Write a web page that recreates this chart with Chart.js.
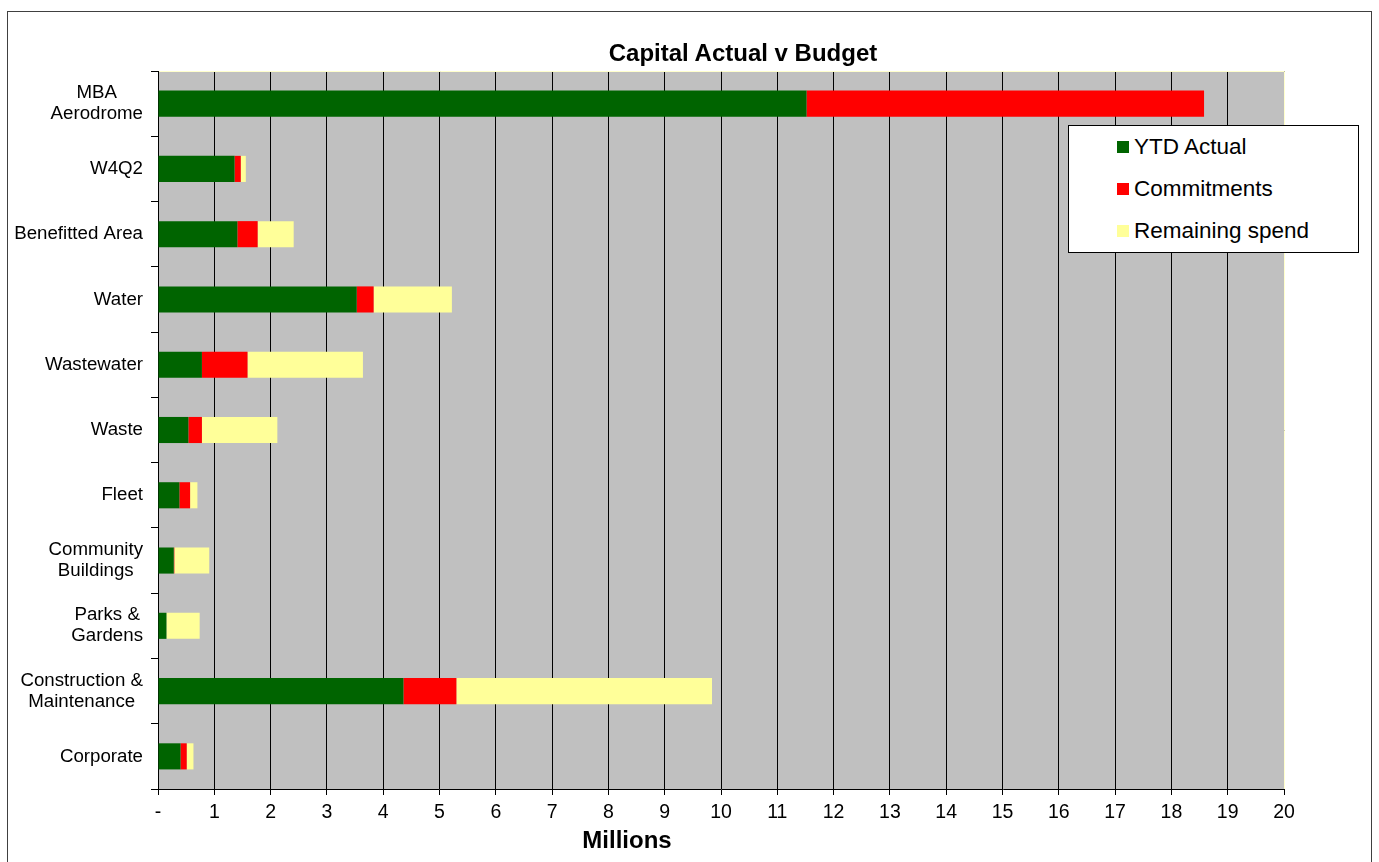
<!DOCTYPE html>
<html>
<head>
<meta charset="utf-8">
<script src="https://cdn.jsdelivr.net/npm/chart.js@4"></script>
<style>
  body { margin: 0; background: #fff; font-family: "Liberation Sans", Arial, sans-serif; }
  #wrap { position: relative; width: 1379px; height: 862px; overflow: hidden; }
  #frame { position: absolute; left: 7px; top: 11px; width: 1365px; height: 860px; border: 1px solid #404040; box-sizing: border-box; }
  #myChart { position: absolute; left: 0; top: 0; }
  .ttl { position: absolute; font-weight: bold; font-size: 24px; white-space: nowrap; transform: translate(-50%, -50%); color: #000; }
  #legend { position: absolute; left: 1068px; top: 125px; width: 291px; height: 128px; border: 1px solid #000; background: #fff; box-sizing: border-box; }
  .item { position: absolute; left: 48px; font-size: 22.5px; white-space: nowrap; transform: translateY(-50%); }
  .item i { display: inline-block; width: 12px; height: 12px; margin-right: 5px; vertical-align: 1px; }
</style>
</head>
<body>
<div id="wrap">
  <div id="frame"></div>
  <canvas id="myChart" width="1379" height="862"></canvas>
  <div class="ttl" style="left:743px; top:53px;">Capital Actual v Budget</div>
  <div class="ttl" style="left:627px; top:840px;">Millions</div>
  <div id="legend"></div>
</div>
<script>
const categories = [['MBA', 'Aerodrome'], 'W4Q2', 'Benefitted Area', 'Water', 'Wastewater', 'Waste', 'Fleet',
  ['Community', 'Buildings'], ['Parks &', 'Gardens'], ['Construction &', 'Maintenance'], 'Corporate'];
const ytdActual   = [11.52, 1.36, 1.41, 3.53, 0.78, 0.54, 0.38, 0.28, 0.15, 4.36, 0.40];
const commitments = [7.06, 0.11, 0.36, 0.30, 0.81, 0.24, 0.19, 0.01, 0, 0.94, 0.11];
const remaining   = [0, 0.09, 0.64, 1.39, 2.05, 1.34, 0.13, 0.62, 0.59, 4.54, 0.12];
const xTickLabels = ['-', '1', '2', '3', '4', '5', '6', '7', '8', '9', '10',
  '11', '12', '13', '14', '15', '16', '17', '18', '19', '20'];

const FONT = '"Liberation Sans", Arial, sans-serif';

// grey plot area + light yellow edge
const plotArea = {
  id: 'plotArea',
  beforeDraw(chart) {
    const a = chart.chartArea, ctx = chart.ctx;
    ctx.save();
    ctx.fillStyle = '#c0c0c0';
    ctx.fillRect(a.left, a.top, a.right - a.left, a.bottom - a.top);
    ctx.restore();
  },
  afterDraw(chart) {
    const a = chart.chartArea, ctx = chart.ctx;
    ctx.save();
    ctx.strokeStyle = '#ffffcc';
    ctx.lineWidth = 1;
    ctx.beginPath();
    ctx.moveTo(a.left + 1, a.top + 0.5);
    ctx.lineTo(a.right + 0.5, a.top + 0.5);
    ctx.lineTo(a.right + 0.5, a.bottom);
    ctx.stroke();
    ctx.restore();
  }
};

// category labels: lines centred on each other, block right aligned
const yLabels = {
  id: 'yLabels',
  afterDraw(chart) {
    const y = chart.scales.y, ctx = chart.ctx;
    ctx.save();
    ctx.font = '18.7px ' + FONT;
    ctx.fillStyle = '#000';
    ctx.textAlign = 'center';
    ctx.textBaseline = 'middle';
    const lineH = 21;
    categories.forEach((lab, i) => {
      const lines = Array.isArray(lab) ? lab : [lab];
      const w = Math.max(...lines.map(l => ctx.measureText(l).width));
      const cx = y.right - 15 - w / 2;
      const cy = y.getPixelForValue(i);
      lines.forEach((l, k) => {
        ctx.fillText(l, cx, cy + (k - (lines.length - 1) / 2) * lineH);
      });
    });
    ctx.restore();
  }
};

const ctx = document.getElementById('myChart');
const chart = new Chart(ctx, {
  type: 'bar',
  data: {
    labels: categories,
    datasets: [
      { label: 'YTD Actual', data: ytdActual, backgroundColor: '#006400' },
      { label: 'Commitments', data: commitments, backgroundColor: '#ff0000' },
      { label: 'Remaining spend', data: remaining, backgroundColor: '#ffff99' }
    ]
  },
  options: {
    indexAxis: 'y',
    responsive: false,
    animation: false,
    devicePixelRatio: 1,
    barPercentage: 0.4,
    categoryPercentage: 1,
    layout: { padding: { top: 71, right: 95, bottom: 40, left: 0 } },
    plugins: {
      legend: { display: false },
      title: { display: false },
      tooltip: { enabled: false }
    },
    scales: {
      x: {
        stacked: true,
        min: 0,
        max: 20,
        ticks: {
          stepSize: 1,
          autoSkip: false,
          maxRotation: 0,
          padding: 6,
          color: '#000',
          font: { family: FONT, size: 19.5 },
          callback: (v) => xTickLabels[v]
        },
        grid: { color: '#000', lineWidth: 1, drawTicks: true, tickLength: 6, tickColor: '#000' },
        border: { display: true, color: '#000' },
        afterFit: (scale) => { scale.height = 33; }
      },
      y: {
        stacked: true,
        ticks: { display: false },
        grid: { drawOnChartArea: false, drawTicks: true, tickLength: 7, color: '#000', offset: true },
        border: { display: true, color: '#000' },
        afterFit: (scale) => { scale.width = 158; }
      }
    }
  },
  plugins: [plotArea, yLabels]
});

// legend box built from the datasets
const legend = document.getElementById('legend');
chart.data.datasets.forEach((ds, i) => {
  const d = document.createElement('div');
  d.className = 'item';
  d.style.top = (21 + i * 42) + 'px';
  d.innerHTML = '<i style="background:' + ds.backgroundColor + '"></i>' + ds.label;
  legend.appendChild(d);
});
</script>
</body>
</html>
